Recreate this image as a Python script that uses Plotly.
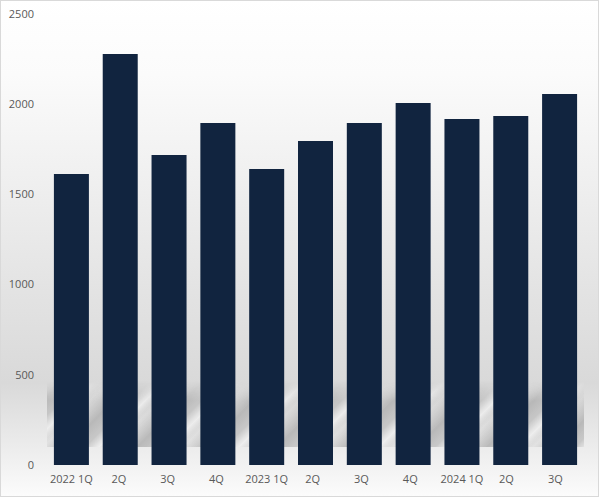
import plotly.graph_objects as go
import urllib.parse

categories = ["2022 1Q", "2Q ", "3Q ", "4Q ", "2023 1Q", "2Q  ", "3Q  ", "4Q  ", "2024 1Q", "2Q   ", "3Q   "]
values = [1613, 2278, 1718, 1896, 1641, 1796, 1896, 2007, 1918, 1935, 2057]
tick_vals = [0, 500, 1000, 1500, 2000, 2500]

W, H = 599, 497
L, R, T, B = 47, 15, 14, 32

# background gradient with a subtle diagonal reflection band near the bottom
band_top = 381
band_bot = 447
svg = f'''<svg xmlns="http://www.w3.org/2000/svg" width="{W}" height="{H}" viewBox="0 0 {W} {H}" preserveAspectRatio="none">
<defs>
<linearGradient id="bg" x1="0" y1="0" x2="0" y2="1">
<stop offset="0" stop-color="#ffffff"/>
<stop offset="0.15" stop-color="#fbfbfb"/>
<stop offset="0.77" stop-color="#d9d9d9"/>
<stop offset="0.9" stop-color="#ececec"/>
<stop offset="1" stop-color="#fcfcfc"/>
</linearGradient>
<linearGradient id="st" gradientUnits="userSpaceOnUse" x1="0" y1="0" x2="35" y2="35" spreadMethod="repeat">
<stop offset="0" stop-color="#b8b8b8" stop-opacity="0.2"/>
<stop offset="0.35" stop-color="#b4b4b4" stop-opacity="1"/>
<stop offset="0.6" stop-color="#c0c0c0" stop-opacity="0.9"/>
<stop offset="0.8" stop-color="#f0f0f0" stop-opacity="0.8"/>
<stop offset="1" stop-color="#b8b8b8" stop-opacity="0.2"/>
</linearGradient>
<linearGradient id="fade" x1="0" y1="0" x2="0" y2="1">
<stop offset="0" stop-color="white" stop-opacity="0"/>
<stop offset="0.3" stop-color="white" stop-opacity="1"/>
<stop offset="1" stop-color="white" stop-opacity="1"/>
</linearGradient>
<mask id="m"><rect x="0" y="{band_top}" width="{W}" height="{band_bot-band_top}" fill="url(#fade)"/></mask>
</defs>
<rect x="0" y="0" width="{W}" height="{H}" fill="url(#bg)"/>
<rect x="{L}" y="{band_top}" width="{W-L-R}" height="{band_bot-band_top}" fill="url(#st)" mask="url(#m)" opacity="0.9"/>
<rect x="0.5" y="0.5" width="{W-1}" height="{H-1}" fill="none" stroke="#d9d9d9" stroke-width="1"/>
</svg>'''
uri = "data:image/svg+xml;charset=utf-8," + urllib.parse.quote(svg)

fig = go.Figure(go.Bar(
    x=categories, y=values,
    marker=dict(color="#11243f", line=dict(width=0)),
    hoverinfo="x+y",
))

fig.update_layout(
    width=W, height=H,
    margin=dict(l=L, r=R, t=T, b=B, pad=0),
    paper_bgcolor="rgba(0,0,0,0)",
    plot_bgcolor="rgba(0,0,0,0)",
    bargap=0.283,
    showlegend=False,
    font=dict(family="Open Sans, DejaVu Sans, sans-serif", size=11, color="#595959"),
    images=[dict(source=uri, xref="paper", yref="paper", x=-L/(W-L-R), y=1+T/(H-T-B),
                 sizex=W/(W-L-R), sizey=H/(H-T-B), xanchor="left", yanchor="top",
                 sizing="stretch", layer="below")],
    xaxis=dict(range=[-0.5, 10.5], showgrid=False, zeroline=False, showline=False,
               automargin=False, ticks="", ticklabelstandoff=6,
               tickfont=dict(size=11, color="#595959")),
    yaxis=dict(range=[0, 2500], tickvals=tick_vals, showgrid=False, zeroline=False,
               showline=False, automargin=False, ticks="", ticklabelstandoff=12,
               tickfont=dict(size=11, color="#595959")),
)

fig.write_html("out.html")
